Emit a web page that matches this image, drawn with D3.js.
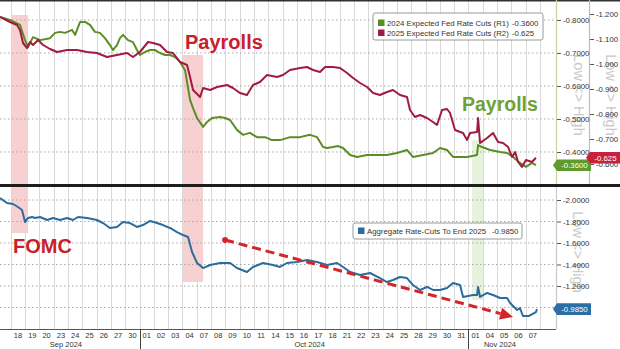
<!DOCTYPE html>
<html>
<head>
<meta charset="utf-8">
<script src="https://cdn.jsdelivr.net/npm/d3@7"></script>
<style>
  html, body { margin: 0; padding: 0; background: #fff; }
  svg { display: block; font-family: "Liberation Sans", Arial, sans-serif; }
</style>
</head>
<body>
<svg id="chart" width="620" height="349"></svg>
<script>
// Trading-day labels along the time axis (index 0 = 18 Sep 2024)
const dayLabels = ["18","19","20","23","24","25","26","27","30",
  "01","02","03","04","07","08","09","10","11","14","15","16","17","18",
  "21","22","23","24","25","28","29","30","31",
  "01","04","05","06","07"];
const monthNames = ["Sep 2024", "Oct 2024", "Nov 2024"];
const monthFirstDay = [0, 9, 32];

// Event windows, in trading-day units
const eventNames = ["FOMC", "Payrolls", "Payrolls"];
const eventStart = [-0.42, 11.47, 31.75];
const eventEnd = [0.70, 12.94, 32.52];

// Series: [trading-day position, value]
const rateCuts2024 = [
  [-1.26,-0.809],[-0.56,-0.800],[0.14,-0.785],[0.49,-0.739],[0.70,-0.718],[1.05,-0.748],
  [1.54,-0.739],[2.24,-0.745],[2.59,-0.761],[2.94,-0.764],[3.29,-0.761],[3.78,-0.770],
  [3.99,-0.755],[4.34,-0.794],[4.69,-0.794],[5.03,-0.785],[5.38,-0.764],[5.73,-0.761],
  [6.08,-0.745],[6.43,-0.724],[6.64,-0.709],[6.92,-0.724],[7.13,-0.745],[7.34,-0.755],
  [7.69,-0.739],[8.04,-0.733],[8.32,-0.709],[8.53,-0.694],[8.88,-0.703],[9.23,-0.709],
  [9.58,-0.709],[9.93,-0.700],[10.28,-0.694],[10.63,-0.694],[10.98,-0.688],[11.33,-0.673],
  [11.68,-0.648],[12.03,-0.558],[12.24,-0.533],[12.52,-0.503],[12.94,-0.476],[13.22,-0.491],
  [13.57,-0.503],[14.13,-0.506],[14.48,-0.503],[14.83,-0.497],[15.31,-0.467],[15.73,-0.452],
  [16.22,-0.458],[16.71,-0.445],[17.27,-0.445],[17.76,-0.436],[18.32,-0.436],[19.02,-0.445],
  [19.72,-0.445],[20.42,-0.452],[20.91,-0.445],[21.12,-0.430],[21.33,-0.415],[21.61,-0.412],
  [22.03,-0.415],[22.38,-0.418],[22.73,-0.412],[23.22,-0.391],[23.71,-0.385],[24.41,-0.391],
  [25.10,-0.391],[25.80,-0.391],[26.50,-0.397],[27.20,-0.406],[27.62,-0.385],[28.32,-0.391],
  [29.02,-0.397],[29.51,-0.412],[30.00,-0.406],[30.42,-0.385],[31.40,-0.385],[32.10,-0.391],
  [32.17,-0.421],[32.45,-0.415],[33.01,-0.406],[33.71,-0.400],[34.20,-0.397],[34.62,-0.385],
  [35.10,-0.367],[35.52,-0.355],[35.94,-0.367],[36.22,-0.360]
];
const rateCuts2025 = [
  [-1.26,-1.188],[-0.56,-1.168],[-0.07,-1.156],[0.14,-1.136],[0.35,-1.084],[0.63,-1.064],
  [0.84,-1.088],[1.05,-1.076],[1.40,-1.096],[1.75,-1.076],[2.24,-1.060],[2.73,-1.048],
  [3.43,-1.056],[4.13,-1.056],[4.83,-1.048],[5.52,-1.044],[6.22,-1.028],[6.92,-1.036],
  [7.62,-1.044],[8.04,-1.028],[8.53,-1.048],[9.09,-1.088],[9.44,-1.084],[9.93,-1.076],
  [10.42,-1.048],[10.84,-1.044],[11.33,-1.008],[11.82,-0.996],[12.03,-0.948],[12.24,-0.896],
  [12.73,-0.868],[12.94,-0.904],[13.43,-0.896],[13.92,-0.908],[14.62,-0.916],[15.03,-0.904],
  [15.52,-0.884],[16.01,-0.876],[16.43,-0.916],[16.92,-0.928],[17.41,-0.956],[18.11,-0.948],
  [18.53,-0.956],[19.02,-0.976],[19.72,-0.984],[20.21,-0.988],[20.63,-0.976],[21.12,-0.968],
  [21.47,-0.988],[22.03,-0.988],[22.52,-0.984],[23.01,-0.964],[23.43,-0.944],[23.92,-0.924],
  [24.41,-0.908],[24.83,-0.884],[25.31,-0.876],[25.80,-0.888],[26.22,-0.896],[26.71,-0.876],
  [27.20,-0.868],[27.41,-0.816],[27.76,-0.788],[28.11,-0.796],[28.60,-0.784],[29.02,-0.768],
  [29.30,-0.756],[29.65,-0.816],[30.00,-0.820],[30.21,-0.804],[30.56,-0.736],[31.12,-0.724],
  [31.40,-0.696],[31.61,-0.724],[32.10,-0.728],[32.17,-0.784],[32.31,-0.684],[32.80,-0.704],
  [33.22,-0.724],[33.57,-0.688],[33.92,-0.684],[34.27,-0.668],[34.55,-0.628],[34.76,-0.648],
  [34.97,-0.608],[35.24,-0.588],[35.52,-0.616],[35.94,-0.608],[36.22,-0.625]
];
const aggregateCuts = [
  [-1.26,-2.019],[-0.77,-1.972],[-0.35,-1.963],[0.00,-1.935],[0.28,-1.907],[0.49,-1.795],
  [0.70,-1.833],[0.98,-1.842],[1.19,-1.833],[1.54,-1.842],[2.03,-1.814],[2.45,-1.833],
  [2.94,-1.814],[3.43,-1.833],[3.85,-1.814],[4.20,-1.842],[4.83,-1.833],[5.52,-1.814],
  [5.94,-1.786],[6.43,-1.740],[6.92,-1.749],[7.34,-1.795],[7.83,-1.786],[8.32,-1.749],
  [8.74,-1.767],[9.23,-1.805],[9.72,-1.786],[10.14,-1.767],[10.63,-1.740],[11.12,-1.702],
  [11.54,-1.674],[11.89,-1.656],[12.17,-1.516],[12.52,-1.414],[12.94,-1.367],[13.43,-1.395],
  [14.13,-1.414],[14.83,-1.414],[15.31,-1.367],[16.01,-1.330],[16.43,-1.377],[17.13,-1.414],
  [17.83,-1.395],[18.32,-1.377],[18.81,-1.414],[19.51,-1.423],[20.21,-1.442],[20.91,-1.423],
  [21.61,-1.395],[22.31,-1.414],[22.73,-1.377],[23.22,-1.330],[23.92,-1.302],[24.62,-1.321],
  [25.31,-1.274],[25.80,-1.237],[26.22,-1.256],[26.71,-1.284],[27.20,-1.274],[27.62,-1.209],
  [28.11,-1.163],[28.60,-1.191],[29.02,-1.163],[29.51,-1.163],[30.00,-1.181],[30.42,-1.228],
  [30.91,-1.209],[31.12,-1.098],[31.82,-1.116],[32.10,-1.116],[32.17,-1.191],[32.31,-1.098],
  [32.80,-1.135],[33.22,-1.116],[33.71,-1.088],[34.20,-1.088],[34.41,-1.042],[34.90,-0.977],
  [35.10,-0.995],[35.31,-0.921],[35.73,-0.921],[36.22,-0.958],[36.29,-0.985]
];

// Axis tick values (labelled) and extra gridline levels
const ticksR1 = [-0.8, -0.7, -0.6, -0.5, -0.4];
const ticksR2 = [-1.2, -1.1, -1.0, -0.9, -0.8, -0.7, -0.6];
const ticksAgg = [-2.0, -1.8, -1.6, -1.4, -1.2];
const gridAgg = [-2.0, -1.8, -1.6, -1.4, -1.2, -1.0];

// Trend arrow on the aggregate panel: [day position, value]
const trendFrom = [14.48, -1.628];
const trendTo = [34.62, -0.912];

// ---------------------------------------------------------------
const svg = d3.select("#chart");
const plotR = 556, axis2X = 589;
const topY0 = 0, topY1 = 185, botY0 = 187, botY1 = 329;

const x = d3.scaleLinear().domain([-1.26, 37.62]).range([0, plotR]);
const yR1 = d3.scaleLinear().domain([-0.8606, -0.3]).range([topY0, topY1]);
const yR2 = d3.scaleLinear().domain([-1.256, -0.516]).range([topY0, topY1]);
const yAgg = d3.scaleLinear().domain([-2.121, -0.8]).range([botY0, botY1]);

const GREEN = "#5b8c25", RED = "#a11b3f", BLUE = "#2b6c9c", ANNOT = "#c8202c";

// event shading
const bandStyle = [
  { fill: "#f6c9c9", top: [15, topY1], bot: [botY0, 233] },
  { fill: "#f6c9c9", top: [55, topY1], bot: [botY0, 282] },
  { fill: "#e3f0d6", top: [140, topY1], bot: [botY0, 300] }
];
eventNames.forEach((name, i) => {
  const s = bandStyle[i];
  const x0 = x(eventStart[i]), w = x(eventEnd[i]) - x0;
  svg.append("rect").attr("x", x0).attr("y", s.top[0]).attr("width", w)
    .attr("height", s.top[1] - s.top[0]).attr("fill", s.fill).attr("opacity", 0.85);
  svg.append("rect").attr("x", x0).attr("y", s.bot[0]).attr("width", w)
    .attr("height", s.bot[1] - s.bot[0]).attr("fill", s.fill).attr("opacity", 0.85);
});

// vertical day gridlines
const gridG = svg.append("g");
d3.range(0, dayLabels.length + 1).forEach(k => {
  const gx = Math.round(x(k - 0.5)) + 0.5;
  gridG.append("line").attr("x1", gx).attr("x2", gx).attr("y1", 0).attr("y2", botY1)
    .attr("stroke", "#d9d9d9").attr("stroke-width", 1);
});

// horizontal dotted gridlines
ticksR1.forEach(v => {
  gridG.append("line").attr("x1", 0).attr("x2", plotR).attr("y1", yR1(v)).attr("y2", yR1(v))
    .attr("stroke", "#a8a8a8").attr("stroke-dasharray", "1.5,2.5");
});
gridAgg.forEach(v => {
  gridG.append("line").attr("x1", 0).attr("x2", plotR).attr("y1", yAgg(v)).attr("y2", yAgg(v))
    .attr("stroke", "#a8a8a8").attr("stroke-dasharray", "1.5,2.5");
});

// clipping for the two panels
const defs = svg.append("defs");
defs.append("clipPath").attr("id", "clipTop").append("rect")
  .attr("x", 0).attr("y", topY0).attr("width", plotR).attr("height", topY1 - topY0);
defs.append("clipPath").attr("id", "clipBot").append("rect")
  .attr("x", 0).attr("y", botY0).attr("width", plotR).attr("height", botY1 - botY0);

const lineR1 = d3.line().x(d => x(d[0])).y(d => yR1(d[1]));
const lineR2 = d3.line().x(d => x(d[0])).y(d => yR2(d[1]));
const lineAgg = d3.line().x(d => x(d[0])).y(d => yAgg(d[1]));

svg.append("path").datum(rateCuts2024).attr("d", lineR1).attr("clip-path", "url(#clipTop)")
  .attr("fill", "none").attr("stroke", GREEN).attr("stroke-width", 2).attr("stroke-linejoin", "round");
svg.append("path").datum(rateCuts2025).attr("d", lineR2).attr("clip-path", "url(#clipTop)")
  .attr("fill", "none").attr("stroke", RED).attr("stroke-width", 2).attr("stroke-linejoin", "round");
svg.append("path").datum(aggregateCuts).attr("d", lineAgg).attr("clip-path", "url(#clipBot)")
  .attr("fill", "none").attr("stroke", BLUE).attr("stroke-width", 2).attr("stroke-linejoin", "round");

// annotations
svg.append("text").attr("x", 185).attr("y", 48.5).text(eventNames[1])
  .attr("font-size", 20).attr("font-weight", "bold").attr("fill", ANNOT);
svg.append("text").attr("x", 462).attr("y", 110.5).text(eventNames[2])
  .attr("font-size", 19.5).attr("font-weight", "bold").attr("fill", "#6f9f35");
svg.append("text").attr("x", 13).attr("y", 253).text(eventNames[0])
  .attr("font-size", 20).attr("font-weight", "bold").attr("fill", ANNOT);

// dashed trend arrow
{
  const ax0 = x(trendFrom[0]), ay0 = yAgg(trendFrom[1]);
  const ax1 = x(trendTo[0]), ay1 = yAgg(trendTo[1]);
  const ang = Math.atan2(ay1 - ay0, ax1 - ax0);
  const headL = 13, headW = 6;
  const bx = ax1 - headL * Math.cos(ang), by = ay1 - headL * Math.sin(ang);
  svg.append("line").attr("x1", ax0).attr("y1", ay0).attr("x2", bx).attr("y2", by)
    .attr("stroke", "#d3262b").attr("stroke-width", 3).attr("stroke-dasharray", "9,5");
  svg.append("circle").attr("cx", ax0).attr("cy", ay0).attr("r", 3).attr("fill", "#d3262b");
  const px = -Math.sin(ang), py = Math.cos(ang);
  svg.append("path")
    .attr("d", `M${ax1},${ay1}L${bx + px * headW},${by + py * headW}L${bx - px * headW},${by - py * headW}Z`)
    .attr("fill", "#d3262b");
}

// legends
function legend(x0, y0, w, h, rows) {
  const g = svg.append("g");
  g.append("rect").attr("x", x0).attr("y", y0).attr("width", w).attr("height", h)
    .attr("rx", 2).attr("fill", "#fff").attr("fill-opacity", 0.92)
    .attr("stroke", "#9a9a9a").attr("stroke-width", 1);
  rows.forEach((r, i) => {
    const cy = y0 + 10 + i * 10 + (rows.length === 1 ? -2 : 0);
    g.append("rect").attr("x", x0 + 5).attr("y", cy - 3.5).attr("width", 6.5).attr("height", 6.5)
      .attr("fill", r.color);
    g.append("text").attr("x", x0 + 14).attr("y", cy + 2.8).text(r.label)
      .attr("font-size", 7.8).attr("fill", "#333");
    g.append("text").attr("x", x0 + r.valueAt).attr("y", cy + 2.8).text(r.value)
      .attr("font-size", 7.8).attr("fill", "#333");
  });
}
const last = a => a[a.length - 1][1];
legend(373, 13, 170, 27, [
  { color: GREEN, label: "2024 Expected Fed Rate Cuts (R1)", value: last(rateCuts2024).toFixed(4), valueAt: 139 },
  { color: RED, label: "2025 Expected Fed Rate Cuts (R2)", value: last(rateCuts2025).toFixed(3), valueAt: 139 }
]);
legend(353, 223, 169, 16, [
  { color: BLUE, label: "Aggregate Rate-Cuts To End 2025", value: last(aggregateCuts).toFixed(4), valueAt: 139 }
]);

// frame lines
svg.append("line").attr("x1", 0).attr("x2", 620).attr("y1", 0.75).attr("y2", 0.75)
  .attr("stroke", "#333").attr("stroke-width", 1.5);
svg.append("line").attr("x1", 0).attr("x2", 620).attr("y1", 185.5).attr("y2", 185.5)
  .attr("stroke", "#1e1e1e").attr("stroke-width", 3);
svg.append("line").attr("x1", 0).attr("x2", plotR).attr("y1", botY1 + 0.5).attr("y2", botY1 + 0.5)
  .attr("stroke", "#555").attr("stroke-width", 1);
svg.append("line").attr("x1", plotR + 0.5).attr("x2", plotR + 0.5).attr("y1", 0).attr("y2", 184)
  .attr("stroke", "#c9d3a8").attr("stroke-width", 1.2);
svg.append("line").attr("x1", plotR + 0.5).attr("x2", plotR + 0.5).attr("y1", 187).attr("y2", botY1)
  .attr("stroke", "#c8c8c8").attr("stroke-width", 1.2);
svg.append("line").attr("x1", axis2X + 0.5).attr("x2", axis2X + 0.5).attr("y1", 0).attr("y2", 184)
  .attr("stroke", "#bdbdbd").attr("stroke-width", 1.2);

// faint axis titles
function axisTitle(cx, cy) {
  svg.append("text").attr("transform", `translate(${cx},${cy}) rotate(90)`)
    .attr("text-anchor", "middle").attr("dy", "0.35em").text("Low <> High")
    .attr("font-size", 14.5).attr("fill", "#c9c9c9");
}
axisTitle(579, 95);
axisTitle(611, 95);
axisTitle(578, 252);

// right axes
function rightAxis(scale, ticks, ax, fmt) {
  const g = svg.append("g").attr("transform", `translate(${ax},0)`)
    .call(d3.axisRight(scale).tickValues(ticks).tickSize(4).tickPadding(2).tickFormat(fmt));
  g.select(".domain").remove();
  g.selectAll(".tick line").attr("stroke", "#555");
  g.selectAll(".tick text").attr("font-size", 7.8).attr("fill", "#333")
    .attr("font-family", "Liberation Sans, Arial, sans-serif");
}
rightAxis(yR1, ticksR1, plotR + 1, d => d.toFixed(4));
rightAxis(yR2, ticksR2, axis2X + 1, d => d.toFixed(3));
rightAxis(yAgg, ticksAgg, plotR + 1, d => d.toFixed(4));

// last-value tags
function valueTag(x0, x1, cy, color, text) {
  const h = 5.8;
  svg.append("path")
    .attr("d", `M${x0 - 4},${cy}L${x0},${cy - h}L${x1},${cy - h}L${x1},${cy + h}L${x0},${cy + h}Z`)
    .attr("fill", color);
  svg.append("text").attr("x", (x0 + x1) / 2 + 0.5).attr("y", cy + 2.8).attr("text-anchor", "middle")
    .text(text).attr("font-size", 7.8).attr("fill", "#fff");
}
valueTag(557, 591, yR1(last(rateCuts2024)), "#5f9a2c", last(rateCuts2024).toFixed(4));
valueTag(590, 620, yR2(last(rateCuts2025)), "#c9203b", last(rateCuts2025).toFixed(3));
valueTag(557, 591, yAgg(last(aggregateCuts)), "#2b6fa6", last(aggregateCuts).toFixed(4));

// time axis labels
dayLabels.forEach((lab, i) => {
  svg.append("text").attr("x", x(i)).attr("y", 338).attr("text-anchor", "middle")
    .text(lab).attr("font-size", 7.5).attr("fill", "#333");
});
const monthLabelAt = [3.35, 20.4, 33.7];
monthNames.forEach((m, i) => {
  svg.append("text").attr("x", x(monthLabelAt[i])).attr("y", 347).attr("text-anchor", "middle")
    .text(m).attr("font-size", 7.5).attr("fill", "#333");
  if (monthFirstDay[i] > 0) {
    const sx = Math.round(x(monthFirstDay[i] - 0.5)) + 0.5;
    svg.append("line").attr("x1", sx).attr("x2", sx).attr("y1", botY1).attr("y2", 349)
      .attr("stroke", "#444").attr("stroke-width", 1);
  }
});
</script>
</body>
</html>
